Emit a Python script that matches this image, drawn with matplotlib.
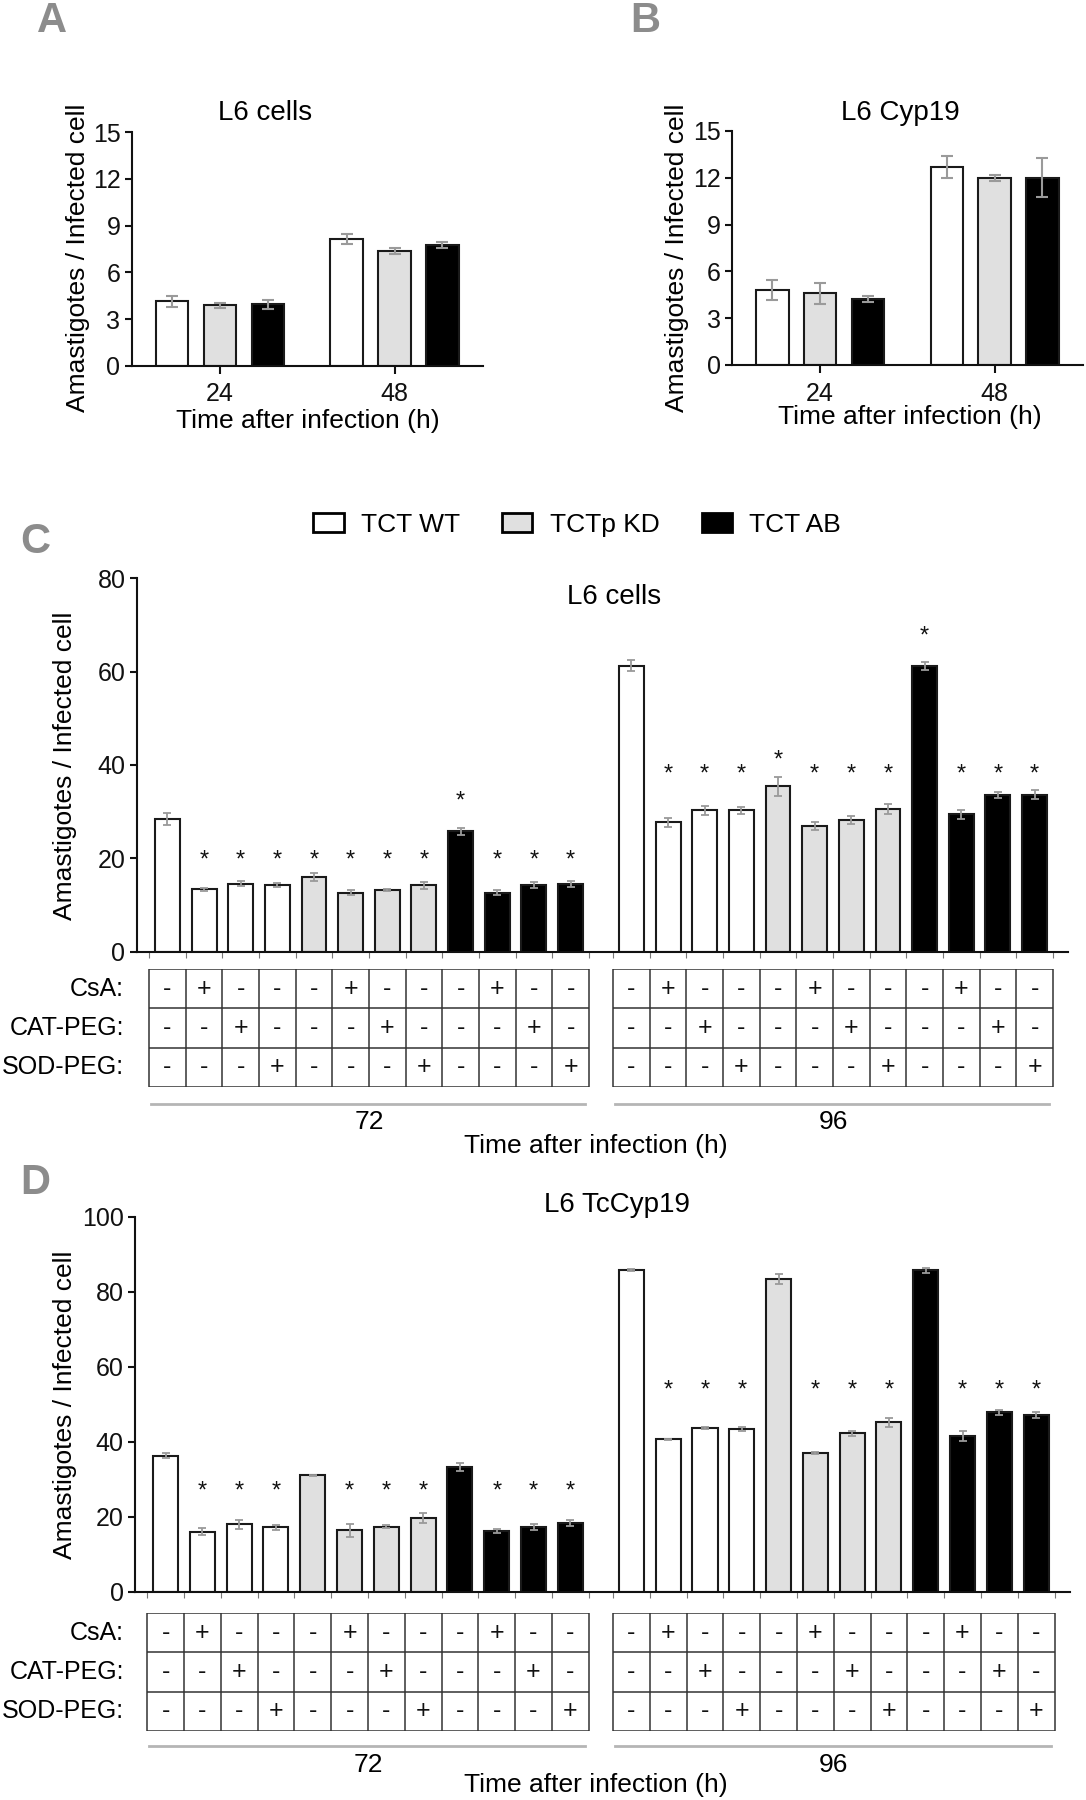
import numpy as np
import matplotlib
matplotlib.use('Agg')
import matplotlib.pyplot as plt
from matplotlib.patches import Patch
from matplotlib.transforms import blended_transform_factory

plt.rcParams['font.family'] = ['Liberation Sans', 'DejaVu Sans']

W, H = 1086, 1800

# ---------------- data ----------------
strains = ['TCT WT', 'TCTp KD', 'TCT AB']
fill_colors = ['white', '#e0e0e0', 'black']

ab_times = ['24', '48']
# Panel A (L6 cells): value per strain at 24 h and 48 h
a_24 = [4.15, 3.87, 3.95]
a_24_err = [0.35, 0.16, 0.28]
a_48 = [8.15, 7.40, 7.76]
a_48_err = [0.32, 0.19, 0.19]
# Panel B (L6 Cyp19)
b_24 = [4.81, 4.59, 4.25]
b_24_err = [0.62, 0.66, 0.20]
b_48 = [12.71, 11.99, 12.00]
b_48_err = [0.70, 0.20, 1.25]

cd_times = ['72', '96']
bar_strain = [0, 0, 0, 0, 1, 1, 1, 1, 2, 2, 2, 2]
csa = ['-', '+', '-', '-', '-', '+', '-', '-', '-', '+', '-', '-']
cat_peg = ['-', '-', '+', '-', '-', '-', '+', '-', '-', '-', '+', '-']
sod_peg = ['-', '-', '-', '+', '-', '-', '-', '+', '-', '-', '-', '+']
row_labels = ['CsA:', 'CAT-PEG:', 'SOD-PEG:']

# Panel C (L6 cells)
c72 = [28.4, 13.4, 14.6, 14.3, 16.0, 12.6, 13.2, 14.2, 25.8, 12.6, 14.3, 14.5]
c72_err = [1.35, 0.35, 0.6, 0.35, 0.8, 0.55, 0.15, 0.8, 0.7, 0.55, 0.7, 0.7]
c96 = [61.3, 27.7, 30.3, 30.3, 35.4, 26.9, 28.2, 30.5, 61.2, 29.4, 33.6, 33.6]
c96_err = [1.1, 1.05, 1.0, 0.8, 2.1, 0.85, 0.8, 1.05, 0.95, 0.9, 0.65, 0.95]
c72_sig = [0, 1, 1, 1, 1, 1, 1, 1, 1, 1, 1, 1]
c96_sig = [0, 1, 1, 1, 1, 1, 1, 1, 1, 1, 1, 1]
c72_star_y = [0, 19.6, 19.6, 19.6, 19.6, 19.6, 19.6, 19.6, 32.1, 19.6, 19.6, 19.6]
c96_star_y = [0, 37.9, 37.9, 37.9, 40.9, 37.9, 37.9, 37.9, 67.5, 37.9, 37.9, 37.9]

# Panel D (L6 TcCyp19)
d72 = [36.3, 16.0, 18.0, 17.2, 31.0, 16.4, 17.3, 19.7, 33.2, 16.2, 17.3, 18.3]
d72_err = [0.7, 0.9, 1.25, 0.65, 0.2, 1.7, 0.4, 1.3, 1.0, 0.6, 0.8, 0.9]
d96 = [85.7, 40.6, 43.7, 43.4, 83.3, 36.9, 42.2, 45.2, 85.7, 41.6, 47.8, 47.1]
d96_err = [0.3, 0.2, 0.2, 0.6, 1.3, 0.3, 0.6, 1.2, 0.6, 1.3, 0.6, 0.7]
d72_sig = [0, 1, 1, 1, 0, 1, 1, 1, 0, 1, 1, 1]
d96_sig = [0, 1, 1, 1, 0, 1, 1, 1, 0, 1, 1, 1]
d72_star_y = [26.7] * 12
d96_star_y = [53.6] * 12

# ---------------- styling helpers ----------------
ERR_COLOR = '#9a9a9a'
EDGE = '#1a1a1a'
LABEL_FS = 19
TICK_FS = 18
YLABEL = 'Amastigotes / Infected cell'
XLABEL = 'Time after infection (h)'

fig = plt.figure(figsize=(W / 100, H / 100), dpi=100)


def add_axes(left, right, top, bottom):
    return fig.add_axes([left / W, 1 - bottom / H, (right - left) / W, (bottom - top) / H])


def style_axes(ax):
    for s in ['top', 'right']:
        ax.spines[s].set_visible(False)
    for s in ['left', 'bottom']:
        ax.spines[s].set_linewidth(1.5)
        ax.spines[s].set_color('#111111')
    ax.tick_params(axis='both', which='major', direction='out', length=5, width=1.5,
                   labelsize=TICK_FS, colors='#111111', pad=3)


def panel_letter(x, y, s):
    fig.text(x / W, 1 - y / H, s, fontsize=30, fontweight='bold', color='#8c8c8c',
             ha='center', va='center')


# ---------------- panels A and B ----------------
def small_panel(ax, v24, e24, v48, e48, title, title_x):
    g1 = np.arange(3)
    g2 = np.arange(3) + 3.65
    for i in range(3):
        for pos, val, err in ((g1[i], v24[i], e24[i]), (g2[i], v48[i], e48[i])):
            ax.bar(pos, val, width=0.68, color=fill_colors[i], edgecolor=EDGE,
                   linewidth=1.5, zorder=2)
            ax.errorbar(pos, val, yerr=err, color=ERR_COLOR, capsize=4, elinewidth=1.5,
                        capthick=1.5, zorder=3, fmt='none')
    ax.set_xlim(-0.85, 6.5)
    ax.set_ylim(0, 15)
    ax.set_yticks(np.arange(0, 16, 3))
    ax.set_xticks([g1[1], g2[1]])
    ax.set_xticklabels(ab_times)
    style_axes(ax)
    ax.tick_params(axis='x', length=6, pad=6)


axA = add_axes(131.6, 483, 132.3, 365.7)
small_panel(axA, a_24, a_24_err, a_48, a_48_err, 'L6 cells', 265)
axB = add_axes(731.7, 1083, 131, 365)
small_panel(axB, b_24, b_24_err, b_48, b_48_err, 'L6 Cyp19', 900)

fig.text(265 / W, 1 - 113 / H, 'L6 cells', fontsize=20, ha='center', va='center')
fig.text(900 / W, 1 - 113 / H, 'L6 Cyp19', fontsize=20, ha='center', va='center')
fig.text(308 / W, 1 - 421 / H, XLABEL, fontsize=LABEL_FS, ha='center', va='center')
fig.text(910 / W, 1 - 417 / H, XLABEL, fontsize=LABEL_FS, ha='center', va='center')
fig.text(78 / W, 1 - 258 / H, YLABEL, fontsize=LABEL_FS, ha='center', va='center', rotation=90)
fig.text(677 / W, 1 - 258 / H, YLABEL, fontsize=LABEL_FS, ha='center', va='center', rotation=90)
panel_letter(52, 21, 'A')
panel_letter(645, 21, 'B')

# ---------------- legend ----------------
handles = [Patch(facecolor=c, edgecolor='black', linewidth=2) for c in fill_colors]
fig.legend(handles, strains, loc='center', bbox_to_anchor=(577 / W, 1 - 525 / H), ncol=3,
           frameon=False, fontsize=LABEL_FS, handlelength=1.15, handleheight=0.75,
           handletextpad=0.65, columnspacing=1.6)

# ---------------- panels C and D ----------------
G1 = np.arange(12)
G2 = np.arange(12) + 12.66
XLIM = (-0.84, 24.58)


def big_panel(ax, v72, e72, v96, e96, sig72, sig96, st72, st96, ymax, cap):
    for pos, vals, errs, sig, sty in ((G1, v72, e72, sig72, st72), (G2, v96, e96, sig96, st96)):
        for i in range(12):
            ax.bar(pos[i], vals[i], width=0.68, color=fill_colors[bar_strain[i]],
                   edgecolor=EDGE, linewidth=1.5, zorder=2)
            ax.errorbar(pos[i], vals[i], yerr=errs[i], color=ERR_COLOR, capsize=cap,
                        elinewidth=1.3, capthick=1.3, zorder=3, fmt='none')
            if sig[i]:
                ax.text(pos[i], sty[i], '*', ha='center', va='center', fontsize=17,
                        color='#111111')
    ax.set_xlim(*XLIM)
    ax.set_ylim(0, ymax)
    ax.set_yticks(np.arange(0, ymax + 1, 20))
    ax.set_xticks([])
    bounds = np.concatenate([G1 - 0.5, [G1[-1] + 0.5], G2 - 0.5, [G2[-1] + 0.5]])
    ax.set_xticks(bounds, minor=True)
    ax.tick_params(axis='x', which='minor', length=4, width=0.8, colors='#777777',
                   labelbottom=False)
    style_axes(ax)


def table(tax, time_y, line_y):
    rows = [csa, cat_peg, sod_peg]
    trans = blended_transform_factory(tax.transData, fig.transFigure)
    for gpos, lab in ((G1, cd_times[0]), (G2, cd_times[1])):
        x0, x1 = gpos[0] - 0.5, gpos[-1] + 0.5
        for r in range(4):
            tax.plot([x0, x1], [r, r], color='#333333', lw=1.1, solid_capstyle='butt')
        for b in list(gpos - 0.5) + [x1]:
            tax.plot([b, b], [0, 3], color='#333333', lw=1.1, solid_capstyle='butt')
        for i, x in enumerate(gpos):
            for r, row in enumerate(rows):
                tax.text(x, 2.5 - r, row[i], ha='center', va='center', fontsize=18,
                         color='#111111')
        tax.plot([x0 + 0.05, x1 - 0.1], [1 - line_y / H] * 2, color='#b5b5b5', lw=2,
                 transform=trans, clip_on=False)
        tax.text((x0 + x1) / 2, 1 - time_y / H, lab, ha='center', va='center',
                 fontsize=LABEL_FS, transform=trans)
    tax.set_xlim(*XLIM)
    tax.set_ylim(0, 3)
    tax.axis('off')


def row_label_texts(top, bottom):
    h = (bottom - top) / 3
    for r, lab in enumerate(row_labels):
        fig.text(124 / W, 1 - (top + h * (r + 0.5)) / H, lab, ha='right', va='center',
                 fontsize=18)


axC = add_axes(136.6, 1068.3, 578.3, 951.7)
big_panel(axC, c72, c72_err, c96, c96_err, c72_sig, c96_sig, c72_star_y, c96_star_y, 80, 2.9)
tC = add_axes(136.6, 1068.3, 969, 1087)
table(tC, 1122, 1104)
row_label_texts(969, 1087)
fig.text(614 / W, 1 - 597 / H, 'L6 cells', fontsize=20, ha='center', va='center')
fig.text(65 / W, 1 - 766 / H, YLABEL, fontsize=LABEL_FS, ha='center', va='center', rotation=90)
fig.text(596 / W, 1 - 1146 / H, XLABEL, fontsize=LABEL_FS, ha='center', va='center')
panel_letter(35, 542, 'C')

axD = add_axes(134.7, 1070, 1216.7, 1591.7)
big_panel(axD, d72, d72_err, d96, d96_err, d72_sig, d96_sig, d72_star_y, d96_star_y, 100, 2.9)
tD = add_axes(134.7, 1070, 1613, 1731)
table(tD, 1765, 1746)
row_label_texts(1613, 1731)
fig.text(617 / W, 1 - 1205 / H, 'L6 TcCyp19', fontsize=20, ha='center', va='center')
fig.text(65 / W, 1 - 1405 / H, YLABEL, fontsize=LABEL_FS, ha='center', va='center', rotation=90)
fig.text(596 / W, 1 - 1785 / H, XLABEL, fontsize=LABEL_FS, ha='center', va='center')
panel_letter(35, 1183, 'D')

fig.savefig('out.png', dpi=100)
